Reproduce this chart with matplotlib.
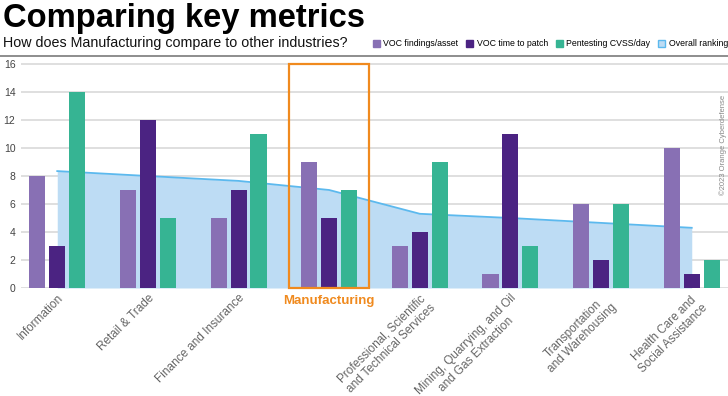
import matplotlib.pyplot as plt
import numpy as np
from matplotlib.patches import Patch, Rectangle

plt.rcParams["font.family"] = ["Liberation Sans", "DejaVu Sans"]

industries = [
    "Information",
    "Retail & Trade",
    "Finance and Insurance",
    "Manufacturing",
    "Professional, Scientific\nand Technical Services",
    "Mining, Quarrying, and Oil\nand Gas Extraction",
    "Transportation\nand Warehousing",
    "Health Care and\nSocial Assistance",
]
voc_findings = [8, 7, 5, 9, 3, 1, 6, 10]
voc_patch_time = [3, 12, 7, 5, 4, 11, 2, 1]
pentest_cvss = [14, 5, 11, 7, 9, 3, 6, 2]
overall_ranking = [8.35, 8.0, 7.65, 7.0, 5.3, 5.0, 4.65, 4.3]
highlight = "Manufacturing"

C_FIND = "#8870b4"
C_PATCH = "#4b2382"
C_PEN = "#36b493"
C_AREA = "#bddcf4"
C_LINE = "#5cb9ee"
C_ORANGE = "#f08a1e"

fig = plt.figure(figsize=(7.28, 3.96), dpi=100)
ax = fig.add_axes([21 / 728, 1 - 288 / 396, 707 / 728, 226.8 / 396])

x = np.arange(len(industries))
w = 0.177
off = 0.22

ax.fill_between(x, overall_ranking, color=C_AREA, lw=0, zorder=1)
ax.plot(x, overall_ranking, color=C_LINE, lw=1.3, zorder=2)
ax.bar(x - off, voc_findings, w, color=C_FIND, zorder=3)
ax.bar(x, voc_patch_time, w, color=C_PATCH, zorder=3)
ax.bar(x + off, pentest_cvss, w, color=C_PEN, zorder=3)

# orange box around the highlighted industry
hi = industries.index(highlight)
ax.add_patch(Rectangle((hi - 0.44, 0), 0.88, 16, fill=False, ec=C_ORANGE,
                       lw=1.6, zorder=4, clip_on=False))

ax.set_xlim(-0.4, 7.4)
ax.set_ylim(0, 16.2)
ax.set_yticks(range(0, 17, 2))
ax.yaxis.grid(True, color="#dcdcdc", lw=1.3, zorder=0)
ax.set_axisbelow(True)
for s in ax.spines.values():
    s.set_visible(False)
ax.tick_params(axis="y", length=0, labelsize=7.5, labelcolor="#444444", pad=4)
ax.tick_params(axis="x", length=0, pad=3)

ax.set_xticks(x)
ax.set_xticklabels(["" if n == highlight else n for n in industries],
                   rotation=45, ha="right", rotation_mode="anchor",
                   fontsize=8.5, color="#666666", multialignment="center")
ax.text(hi, -0.5, highlight, ha="center", va="top", fontsize=9.5,
        fontweight="bold", color=C_ORANGE, transform=ax.transData)

fig.text(3 / 728, 1 - 3 / 396, "Comparing key metrics", fontsize=23.6,
         fontweight="bold", va="top", ha="left", color="#000000")
fig.text(3 / 728, 1 - 43 / 396, "How does Manufacturing compare to other industries?",
         fontsize=10.3, va="center", ha="left", color="#111111")
fig.add_artist(plt.Line2D([0, 1], [1 - 56 / 396] * 2, color="#7a7a7a", lw=1.2))

handles = [
    Patch(fc=C_FIND, ec=C_FIND, label="VOC findings/asset"),
    Patch(fc=C_PATCH, ec=C_PATCH, label="VOC time to patch"),
    Patch(fc=C_PEN, ec=C_PEN, label="Pentesting CVSS/day"),
    Patch(fc=C_AREA, ec=C_LINE, label="Overall ranking"),
]
fig.legend(handles=handles, loc="center left", bbox_to_anchor=(373 / 728, 1 - 44 / 396),
           ncol=4, frameon=False, fontsize=6.3, handlelength=0.8, handleheight=0.8,
           handletextpad=0.4, columnspacing=0.9, borderpad=0, borderaxespad=0)

fig.text(723 / 728, 1 - 145 / 396, "©2023 Orange Cyberdefense", rotation=90,
         fontsize=5.5, color="#888888", ha="center", va="center")

fig.savefig("out.png", dpi=100)
